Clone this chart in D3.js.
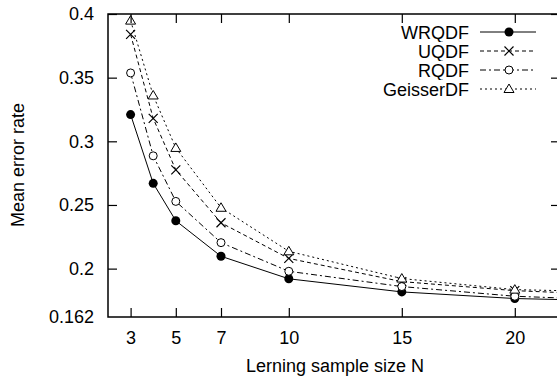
<!DOCTYPE html>
<html>
<head>
<meta charset="utf-8">
<script src="https://cdn.jsdelivr.net/npm/d3@7"></script>
<style>
  body { margin: 0; background: #fff; }
  text { font-family: "Liberation Sans", Arial, sans-serif; fill: #000; }
</style>
</head>
<body>
<script>
// sample sizes N and the four classifiers
const sizes = [3, 4, 5, 7, 10, 15, 20, 25];
const wrqdf = [0.321, 0.267, 0.2376, 0.2097, 0.192, 0.1817, 0.1765, 0.1745];
const uqdf = [0.384, 0.318, 0.2776, 0.236, 0.208, 0.1898, 0.1827, 0.179];
const rqdf = [0.3537, 0.2886, 0.2528, 0.2204, 0.1979, 0.1859, 0.1783, 0.175];
const geisser = [0.3948, 0.336, 0.2948, 0.2478, 0.2136, 0.1922, 0.1835, 0.1815];
const seriesNames = ["WRQDF", "UQDF", "RQDF", "GeisserDF"];
const xTicks = [3, 5, 7, 10, 15, 20];
const yTicks = [0.162, 0.2, 0.25, 0.3, 0.35, 0.4];

var W = 557, H = 378;
// plot box (the right edge is just past the visible picture)
var mLeft = 108, mTop = 14, mRight = 560, mBottom = 317;
var FS = "18px";

var svg = d3.select("body").append("svg")
            .attr("width", W)
            .attr("height", H);

var x = d3.scaleLinear().domain([2, 22]).range([mLeft, mRight]);
var y = d3.scaleLinear().domain([0.162, 0.4]).range([mBottom, mTop]);

svg.append("clipPath").attr("id", "clip")
   .append("rect")
   .attr("x", mLeft).attr("y", mTop - 10)
   .attr("width", mRight - mLeft).attr("height", mBottom - mTop + 10);

// styles for each line
var styles = [
  {data: wrqdf, dash: null, marker: "dot"},
  {data: uqdf, dash: "4,3", marker: "cross"},
  {data: rqdf, dash: "6,3,2,3", marker: "circle"},
  {data: geisser, dash: "2,3", marker: "tri"}
];

function drawMarker (g, kind, cx, cy) {
  if (kind == "dot") {
    g.append("circle").attr("cx", cx).attr("cy", cy).attr("r", 4.5)
     .attr("fill", "#000");
  } else if (kind == "circle") {
    g.append("circle").attr("cx", cx).attr("cy", cy).attr("r", 4)
     .attr("fill", "#fff").attr("stroke", "#000").attr("stroke-width", 1);
  } else if (kind == "cross") {
    var s = 4.5;
    g.append("path")
     .attr("d", `M${cx-s},${cy-s}L${cx+s},${cy+s}M${cx-s},${cy+s}L${cx+s},${cy-s}`)
     .attr("stroke", "#000").attr("stroke-width", 1.2).attr("fill", "none");
  } else {
    var s = 5;
    g.append("path")
     .attr("d", `M${cx},${cy-s}L${cx+s},${cy+s*0.7}L${cx-s},${cy+s*0.7}Z`)
     .attr("stroke", "#000").attr("stroke-width", 1).attr("fill", "#fff");
  }
}

var plot = svg.append("g").attr("clip-path", "url(#clip)");
var line = d3.line().x((d, i) => x(sizes[i])).y(d => y(d));

styles.forEach(function (s) {
  plot.append("path")
      .attr("d", line(s.data))
      .attr("fill", "none")
      .attr("stroke", "#000")
      .attr("stroke-width", 1)
      .attr("stroke-dasharray", s.dash);
});
styles.forEach(function (s) {
  s.data.forEach(function (v, i) {
    drawMarker(plot, s.marker, x(sizes[i]), y(v));
  });
});

// frame + inward ticks
svg.append("rect")
   .attr("x", mLeft).attr("y", mTop)
   .attr("width", mRight - mLeft).attr("height", mBottom - mTop)
   .attr("fill", "none").attr("stroke", "#000").attr("stroke-width", 1.5);

var bottomAxis = d3.axisBottom(x).tickValues(xTicks).tickSizeInner(-9).tickSizeOuter(0).tickPadding(14);
var leftAxis = d3.axisLeft(y).tickValues(yTicks).tickSizeInner(-9).tickSizeOuter(0).tickPadding(14)
                 .tickFormat(d => String(d));
var topAxis = d3.axisTop(x).tickValues(xTicks).tickSizeInner(-9).tickSizeOuter(0).tickFormat("");
var rightAxis = d3.axisRight(y).tickValues(yTicks).tickSizeInner(-9).tickSizeOuter(0).tickFormat("");

function styleAxis (g) {
  g.select(".domain").remove();
  g.selectAll(".tick line").attr("stroke", "#000").attr("stroke-width", 1.2);
  g.selectAll(".tick text").style("font-size", FS)
   .style("font-family", "'Liberation Sans', Arial, sans-serif");
}

svg.append("g").attr("transform", `translate(0,${mBottom})`).call(bottomAxis).call(styleAxis);
svg.append("g").attr("transform", `translate(${mLeft},0)`).call(leftAxis).call(styleAxis);
svg.append("g").attr("transform", `translate(0,${mTop})`).call(topAxis).call(styleAxis);
svg.append("g").attr("transform", `translate(${mRight},0)`).call(rightAxis).call(styleAxis);
// the 0.162 tick sits on the bottom spine, no tick mark there
svg.selectAll(".tick").filter(d => d === 0.162).select("line").remove();

// axis titles
svg.append("text")
   .attr("x", 335).attr("y", 372)
   .attr("text-anchor", "middle")
   .style("font-size", FS)
   .text("Lerning sample size N");
svg.append("text")
   .attr("transform", "translate(24,165) rotate(-90)")
   .attr("text-anchor", "middle")
   .style("font-size", FS)
   .text("Mean error rate");

// legend
var legend = svg.append("g");
styles.forEach(function (s, i) {
  var ly = 32 + i * 19;
  legend.append("rect").attr("x", 395).attr("y", ly - 9).attr("width", 150).attr("height", 18)
        .attr("fill", "#fff");
  legend.append("text")
        .attr("x", 469).attr("y", ly + 6.5)
        .attr("text-anchor", "end")
        .style("font-size", FS)
        .text(seriesNames[i]);
  legend.append("line")
        .attr("x1", 480).attr("x2", 536)
        .attr("y1", ly).attr("y2", ly)
        .attr("stroke", "#000").attr("stroke-width", 1)
        .attr("stroke-dasharray", s.dash);
  drawMarker(legend, s.marker, 509, ly);
});
</script>
</body>
</html>
